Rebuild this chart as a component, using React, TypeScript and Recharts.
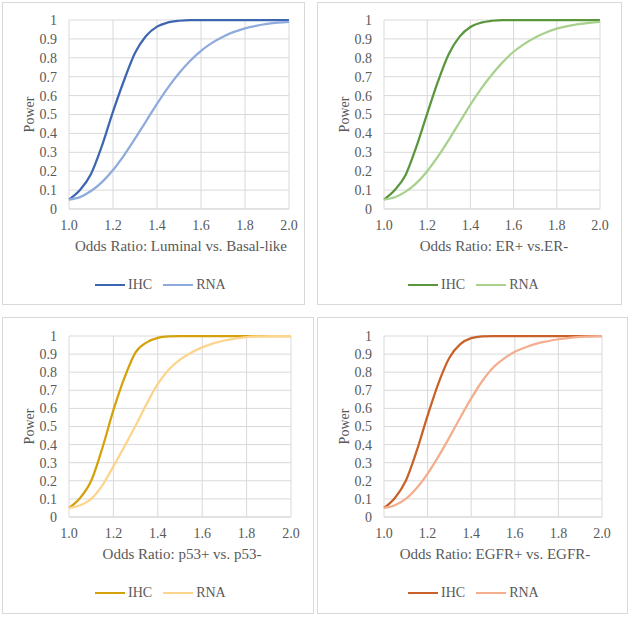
import { LineChart, Line, XAxis, YAxis, CartesianGrid, Legend } from 'recharts'

// Odds ratio grid shared by all four panels
const oddsRatio = [
  1.0, 1.05, 1.1, 1.15, 1.2, 1.25, 1.3, 1.35, 1.4, 1.45, 1.5,
  1.55, 1.6, 1.65, 1.7, 1.75, 1.8, 1.85, 1.9, 1.95, 2.0,
]

const luminalIhc = [0.05, 0.1, 0.185, 0.335, 0.515, 0.68, 0.825, 0.915, 0.965, 0.987, 0.996, 1, 1, 1, 1, 1, 1, 1, 1, 1, 1]
const luminalRna = [0.05, 0.063, 0.095, 0.142, 0.206, 0.284, 0.372, 0.464, 0.556, 0.642, 0.718, 0.783, 0.837, 0.879, 0.912, 0.937, 0.956, 0.969, 0.979, 0.986, 0.99]

const erIhc = [0.05, 0.1, 0.18, 0.33, 0.505, 0.675, 0.82, 0.912, 0.963, 0.986, 0.996, 1, 1, 1, 1, 1, 1, 1, 1, 1, 1]
const erRna = [0.05, 0.062, 0.092, 0.137, 0.2, 0.278, 0.366, 0.459, 0.552, 0.637, 0.712, 0.777, 0.832, 0.874, 0.908, 0.934, 0.954, 0.968, 0.978, 0.985, 0.99]

const p53Ihc = [0.05, 0.105, 0.2, 0.38, 0.59, 0.77, 0.91, 0.965, 0.99, 0.998, 1, 1, 1, 1, 1, 1, 1, 1, 1, 1, 1]
const p53Rna = [0.05, 0.065, 0.1, 0.175, 0.28, 0.39, 0.505, 0.625, 0.735, 0.815, 0.87, 0.908, 0.937, 0.959, 0.975, 0.987, 0.994, 0.998, 1, 1, 1]

const egfrIhc = [0.05, 0.105, 0.2, 0.365, 0.56, 0.74, 0.88, 0.955, 0.988, 0.998, 1, 1, 1, 1, 1, 1, 1, 1, 1, 1, 1]
const egfrRna = [0.05, 0.065, 0.1, 0.16, 0.24, 0.335, 0.44, 0.55, 0.655, 0.75, 0.825, 0.875, 0.913, 0.938, 0.958, 0.971, 0.982, 0.99, 0.995, 0.998, 1]

const xTicks = [1.0, 1.2, 1.4, 1.6, 1.8, 2.0]
const yTicks = [0, 0.1, 0.2, 0.3, 0.4, 0.5, 0.6, 0.7, 0.8, 0.9, 1]

const FONT = 'Liberation Serif'
const TEXT = '#595959'
const GRID = '#d9d9d9'

interface Panel {
  title: string
  ihc: number[]
  rna: number[]
  ihcColor: string
  rnaColor: string
  box: { left: number; top: number; width: number; height: number }
  plot: { left: number; right: number; top: number; bottom: number }
  legendLeft: number
  legendY: number
}

const panels: Panel[] = [
  {
    title: 'Odds Ratio: Luminal vs. Basal-like',
    ihc: luminalIhc, rna: luminalRna,
    ihcColor: '#3d66b0', rnaColor: '#8faadc',
    box: { left: 2, top: 2, width: 303, height: 303 },
    plot: { left: 69, right: 289, top: 20, bottom: 209 },
    legendLeft: 95, legendY: 285,
  },
  {
    title: 'Odds Ratio: ER+ vs.ER-',
    ihc: erIhc, rna: erRna,
    ihcColor: '#5a963c', rnaColor: '#a9d18e',
    box: { left: 317, top: 2, width: 305, height: 303 },
    plot: { left: 384, right: 600, top: 20, bottom: 209 },
    legendLeft: 408, legendY: 285,
  },
  {
    title: 'Odds Ratio: p53+ vs. p53-',
    ihc: p53Ihc, rna: p53Rna,
    ihcColor: '#d4a10a', rnaColor: '#fdd48c',
    box: { left: 2, top: 317, width: 312, height: 297 },
    plot: { left: 69, right: 291, top: 336, bottom: 517 },
    legendLeft: 95, legendY: 593,
  },
  {
    title: 'Odds Ratio: EGFR+ vs. EGFR-',
    ihc: egfrIhc, rna: egfrRna,
    ihcColor: '#c9622a', rnaColor: '#f4ae8e',
    box: { left: 317, top: 317, width: 311, height: 297 },
    plot: { left: 384, right: 602, top: 336, bottom: 517 },
    legendLeft: 408, legendY: 593,
  },
]

const X_AXIS_HEIGHT = 44

function PowerPanel({ p }: { p: Panel }) {
  const data = oddsRatio.map((x, i) => ({ x, IHC: p.ihc[i], RNA: p.rna[i] }))

  // inner origin of the bordered box
  const ox = p.box.left + 1
  const oy = p.box.top + 1
  const w = p.box.width - 2
  const h = p.box.height - 2
  const plotH = p.plot.bottom - p.plot.top
  const yAxisWidth = p.plot.left - ox
  const margin = {
    top: p.plot.top - oy,
    right: ox + w - p.plot.right,
    left: 0,
    bottom: h - (p.plot.top - oy) - plotH - X_AXIS_HEIGHT,
  }
  const plotCenter = (p.plot.left + p.plot.right) / 2 - ox + 2

  return (
    <div
      style={{
        position: 'absolute',
        left: p.box.left,
        top: p.box.top,
        width: p.box.width,
        height: p.box.height,
        boxSizing: 'border-box',
        border: `1px solid ${GRID}`,
        background: '#fff',
        fontFamily: FONT,
      }}
    >
      <LineChart width={w} height={h} data={data} margin={margin} style={{ fontFamily: FONT }}>
        <CartesianGrid stroke={GRID} strokeWidth={1} />
        <XAxis
          dataKey="x"
          type="number"
          domain={[1, 2]}
          ticks={xTicks}
          interval={0}
          tickFormatter={(v: number) => v.toFixed(1)}
          height={X_AXIS_HEIGHT}
          axisLine={{ stroke: GRID }}
          tickLine={false}
          tickSize={6}
          tickMargin={5}
          tick={{ fill: TEXT, fontSize: 14, fontFamily: FONT }}
          label={{
            content: () => (
              <text
                x={plotCenter}
                y={p.plot.bottom - oy + 42}
                textAnchor="middle"
                fill={TEXT}
                fontSize={15}
                fontFamily={FONT}
              >
                {p.title}
              </text>
            ),
          }}
        />
        <YAxis
          type="number"
          domain={[0, 1]}
          ticks={yTicks}
          interval={0}
          width={yAxisWidth}
          tickFormatter={(v: number) => (v === 0 || v === 1 ? String(v) : v.toFixed(1))}
          axisLine={false}
          tickLine={false}
          tickSize={6}
          tickMargin={6}
          tick={{ fill: TEXT, fontSize: 14, fontFamily: FONT }}
          label={{
            content: () => {
              const cx = 29 - ox + p.box.left - 2
              const cy = (p.plot.top + p.plot.bottom) / 2 - oy
              return (
                <text
                  x={cx}
                  y={cy}
                  transform={`rotate(-90, ${cx}, ${cy})`}
                  textAnchor="middle"
                  dominantBaseline="central"
                  fill={TEXT}
                  fontSize={14}
                  fontFamily={FONT}
                >
                  Power
                </text>
              )
            },
          }}
        />
        <Legend
          layout="horizontal"
          verticalAlign="middle"
          align="center"
          wrapperStyle={{ top: p.legendY - oy - 9, left: p.legendLeft - ox, width: 'auto' }}
          content={() => (
            <div style={{ display: 'flex', alignItems: 'center', fontFamily: FONT, fontSize: 14, color: TEXT, height: 18 }}>
              {[
                { name: 'IHC', color: p.ihcColor },
                { name: 'RNA', color: p.rnaColor },
              ].map((item, i) => (
                <div key={item.name} style={{ display: 'flex', alignItems: 'center', marginLeft: i === 0 ? 0 : 11 }}>
                  <span style={{ display: 'inline-block', width: 30, height: 2.5, background: item.color, marginRight: 3 }} />
                  <span>{item.name}</span>
                </div>
              ))}
            </div>
          )}
        />
        <Line
          type="monotone"
          dataKey="IHC"
          stroke={p.ihcColor}
          strokeWidth={2.25}
          dot={false}
          activeDot={false}
          isAnimationActive={false}
        />
        <Line
          type="monotone"
          dataKey="RNA"
          stroke={p.rnaColor}
          strokeWidth={2.25}
          dot={false}
          activeDot={false}
          isAnimationActive={false}
        />
      </LineChart>
    </div>
  )
}

export default function App() {
  return (
    <div style={{ position: 'absolute', left: 0, top: 0, width: 630, height: 619, background: '#fff' }}>
      {panels.map((p) => (
        <PowerPanel key={p.title} p={p} />
      ))}
    </div>
  )
}
